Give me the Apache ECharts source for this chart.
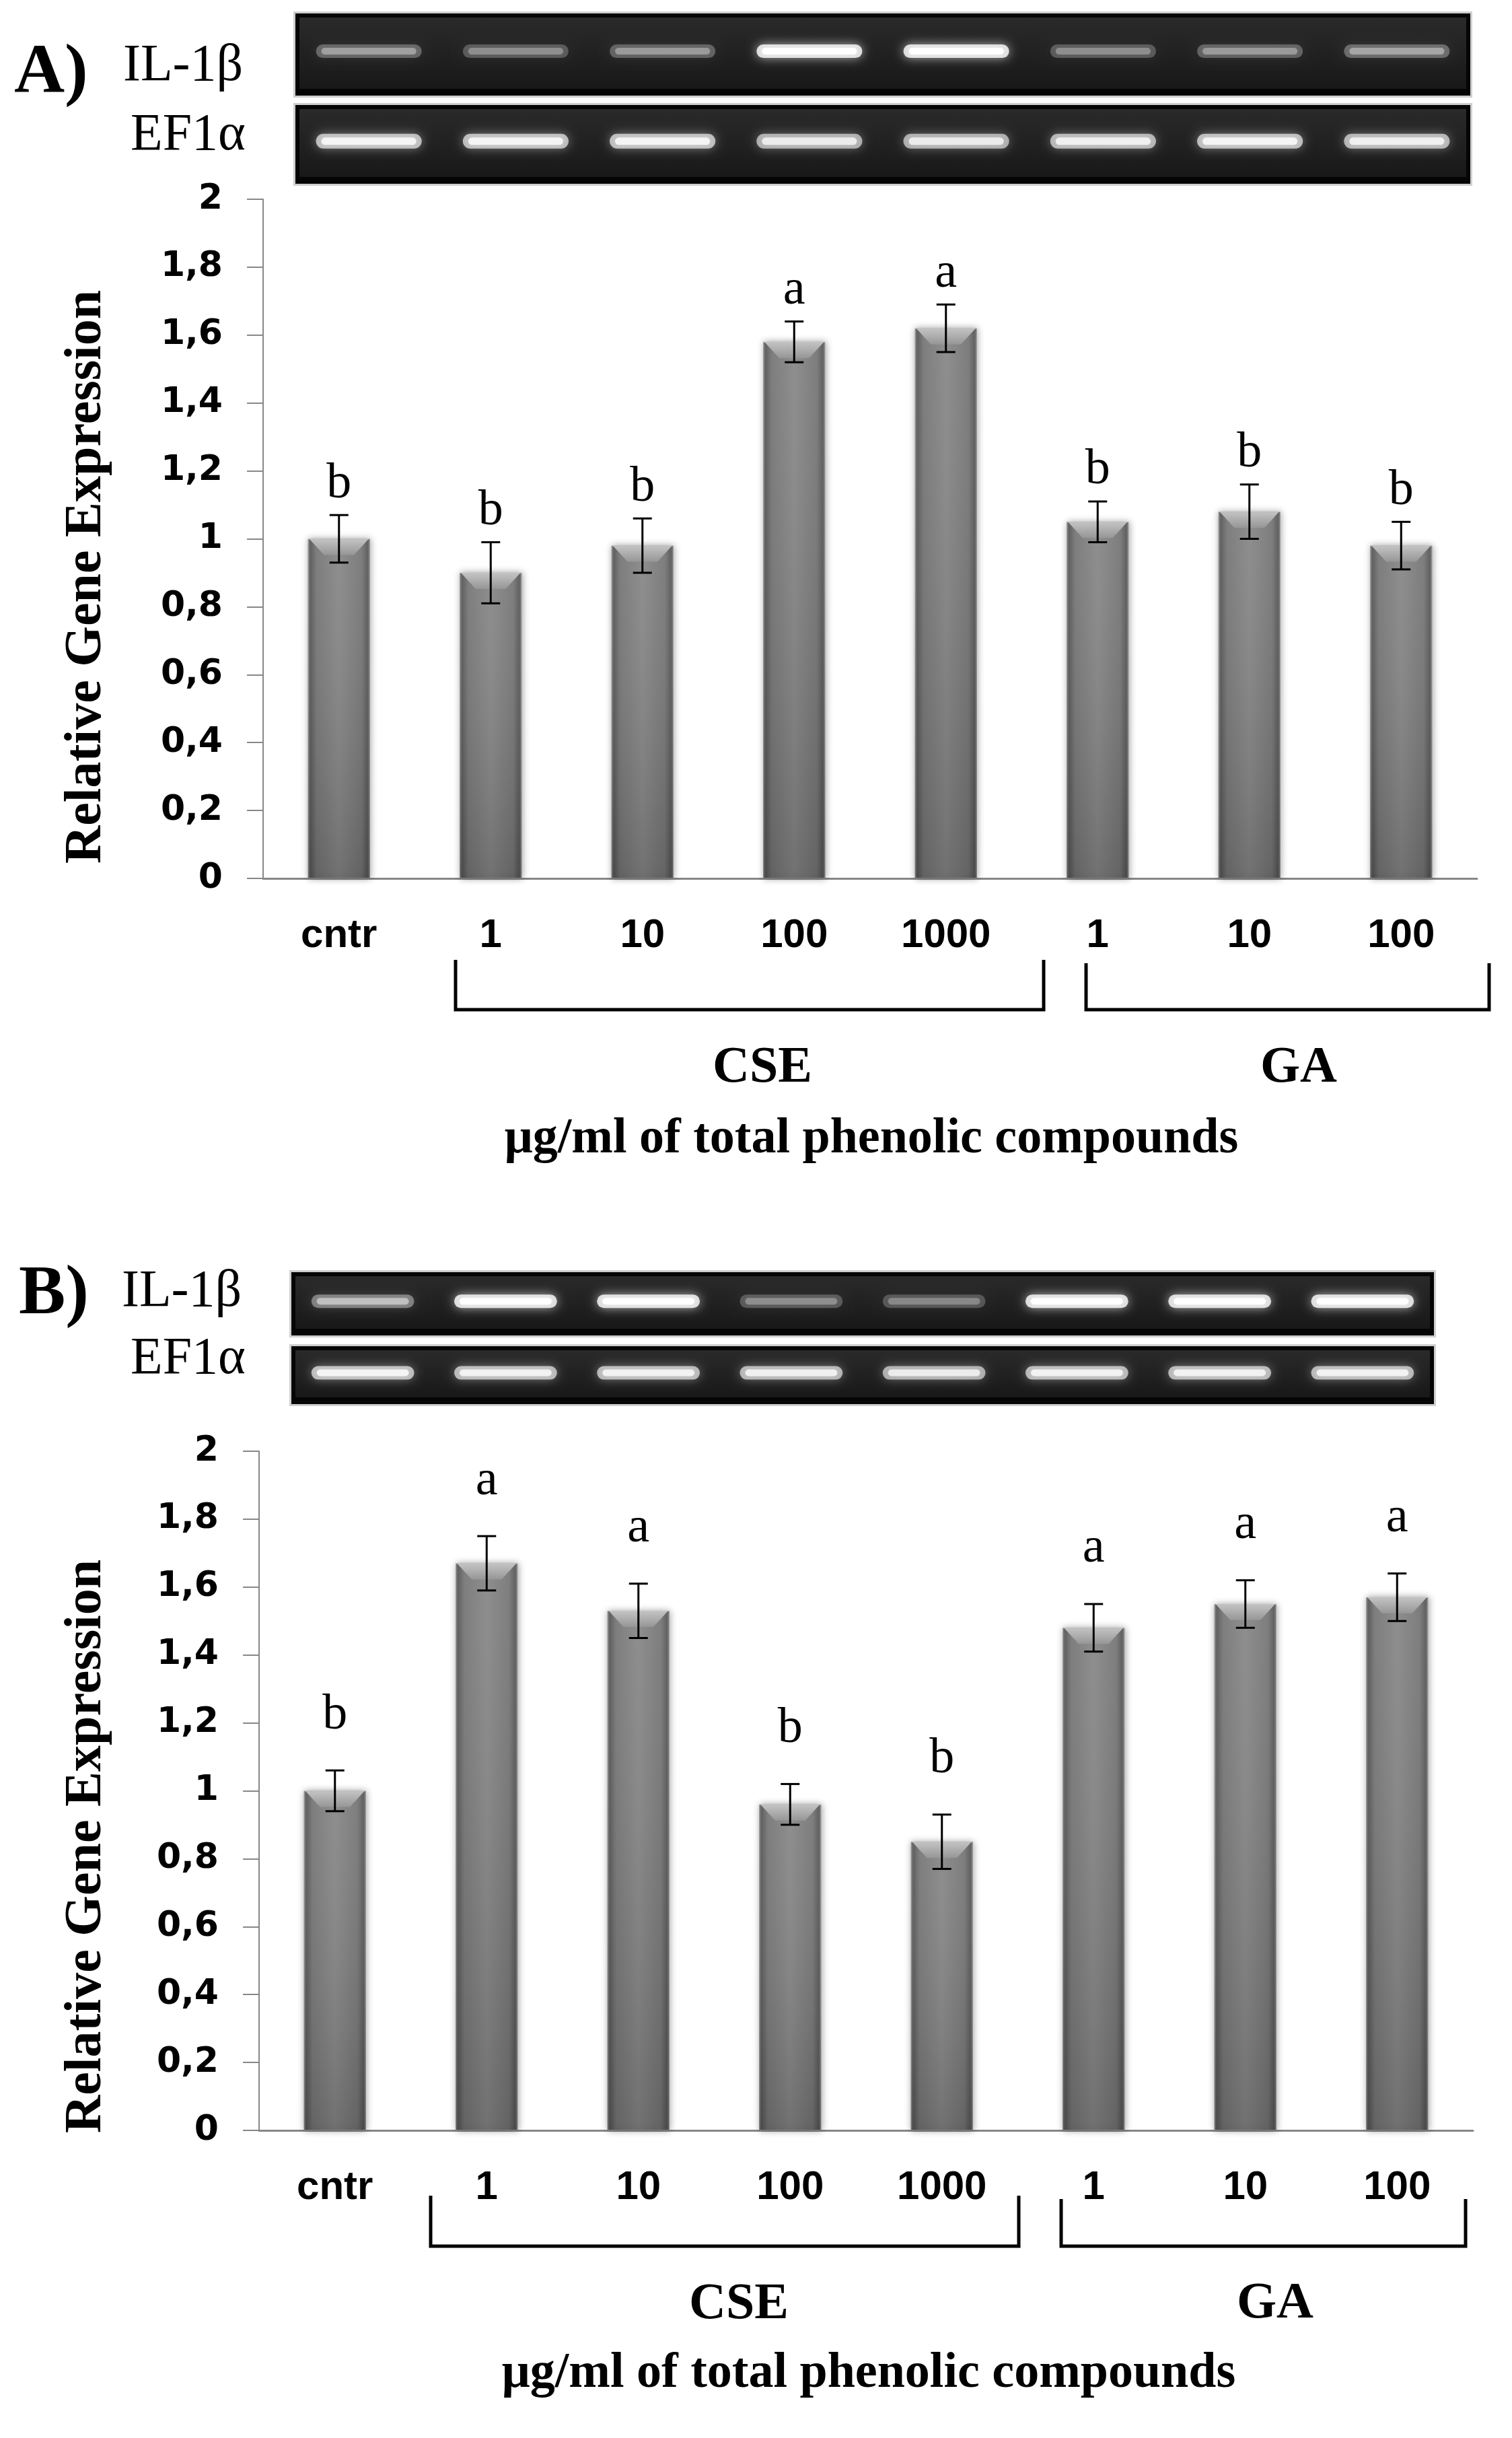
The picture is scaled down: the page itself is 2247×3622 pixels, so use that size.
<!DOCTYPE html>
<html><head><meta charset="utf-8">
<script src="https://cdn.jsdelivr.net/npm/echarts@6/dist/echarts.min.js"></script>
<style>html,body{margin:0;padding:0;background:#fff}#c{width:2247px;height:3622px}</style>
</head><body><div id="c"></div>
<script>
// ---- data ----
const categories = ['cntr', '1', '10', '100', '1000', '1', '10', '100'];
const yTickLabels = ['0', '0,2', '0,4', '0,6', '0,8', '1', '1,2', '1,4', '1,6', '1,8', '2'];
const valuesA = [1.00, 0.90, 0.98, 1.58, 1.62, 1.05, 1.08, 0.98];
const errorsA = [0.07, 0.09, 0.08, 0.06, 0.07, 0.06, 0.08, 0.07];
const lettersA = ['b', 'b', 'b', 'a', 'a', 'b', 'b', 'b'];
const valuesB = [1.00, 1.67, 1.53, 0.96, 0.85, 1.48, 1.55, 1.57];
const errorsB = [0.06, 0.08, 0.08, 0.06, 0.08, 0.07, 0.07, 0.07];
const lettersB = ['b', 'a', 'a', 'b', 'b', 'a', 'a', 'a'];
// gel band intensities (0..1) per lane
const gelIL_A = [0.36, 0.3, 0.34, 1.0, 1.0, 0.3, 0.34, 0.38];
const gelEF_A = [0.8, 0.8, 0.8, 0.72, 0.72, 0.76, 0.8, 0.76];
const gelIL_B = [0.48, 1.0, 1.0, 0.3, 0.28, 1.0, 1.0, 1.0];
const gelEF_B = [0.8, 0.78, 0.78, 0.76, 0.72, 0.78, 0.78, 0.78];

const SERIF = '"Liberation Serif", "Times New Roman", serif';
const SANS = '"DejaVu Sans", sans-serif';
const SANS_X = '"Liberation Sans", Arial, sans-serif';
const AXIS_COLOR = '#878787';

const chart = echarts.init(document.getElementById('c'), null, {renderer: 'canvas'});

function barColor() {
  return new echarts.graphic.LinearGradient(0, 0, 1, 0, [
    {offset: 0, color: '#8a8a8a'},
    {offset: 0.04, color: '#5a5a5a'},
    {offset: 0.14, color: '#767676'},
    {offset: 0.5, color: '#878787'},
    {offset: 0.86, color: '#767676'},
    {offset: 0.96, color: '#5a5a5a'},
    {offset: 1, color: '#8a8a8a'}
  ]);
}

function overlay(letters, gap) {
  return function (params, api) {
    const i = api.value(0), v = api.value(1), e = api.value(2);
    const p0 = api.coord([i, 0]), p1 = api.coord([i, v]);
    const bw = api.size([1, 0])[0] * 0.41;
    const cx = p1[0], l = cx - bw / 2, r = cx + bw / 2, t = p1[1], b = p0[1];
    const bev = 24;
    const et = api.coord([i, v + e])[1], eb = api.coord([i, v - e])[1];
    const cap = 14;
    return {
      type: 'group', silent: true,
      children: [
        {type: 'rect', shape: {x: l, y: t, width: bw, height: b - t},
          style: {fill: new echarts.graphic.LinearGradient(0, 0, 0, 1, [
            {offset: 0, color: 'rgba(255,255,255,0.06)'},
            {offset: 1, color: 'rgba(0,0,0,0.16)'}])}},
        {type: 'polygon', shape: {points: [[l + 2, t], [r - 2, t], [r - bev, t + bev], [l + bev, t + bev]]},
          style: {fill: new echarts.graphic.LinearGradient(0, 0, 0, 1, [
            {offset: 0, color: '#c4c4c4'},
            {offset: 1, color: '#969696'}])}},
        {type: 'line', shape: {x1: cx, y1: et, x2: cx, y2: eb}, style: {stroke: '#000', lineWidth: 3}},
        {type: 'line', shape: {x1: cx - cap, y1: et, x2: cx + cap, y2: et}, style: {stroke: '#000', lineWidth: 3}},
        {type: 'line', shape: {x1: cx - cap, y1: eb, x2: cx + cap, y2: eb}, style: {stroke: '#000', lineWidth: 3}},
        {type: 'text', style: {text: letters[params.dataIndex], x: cx, y: et - gap,
          align: 'center', verticalAlign: 'bottom', fontSize: 74, fontFamily: SERIF, fill: '#000'}}
      ]
    };
  };
}

function xAxisCfg(gi) {
  return {
    type: 'category', gridIndex: gi, data: categories,
    axisLine: {lineStyle: {color: AXIS_COLOR, width: 3}},
    axisTick: {length: 20, lineStyle: {color: AXIS_COLOR, width: 2}},
    axisLabel: {interval: 0, margin: 55, color: '#000', fontSize: 60, fontWeight: 'bold', fontFamily: SANS_X}
  };
}
function yAxisCfg(gi) {
  return {
    type: 'value', gridIndex: gi, min: 0, max: 2, interval: 0.2,
    splitLine: {show: false},
    axisLine: {show: true, lineStyle: {color: AXIS_COLOR, width: 2}},
    axisTick: {show: true, length: 24, lineStyle: {color: AXIS_COLOR, width: 2}},
    axisLabel: {margin: 60, color: '#000', fontSize: 52, fontWeight: 'bold', fontFamily: SANS,
      formatter: v => yTickLabels[Math.round(v * 5)]}
  };
}

function barSeries(gi, vals) {
  return {
    type: 'bar', xAxisIndex: gi, yAxisIndex: gi, data: vals, barWidth: '41%',
    itemStyle: {color: barColor(), borderColor: '#9a9a9a', borderWidth: 1,
      shadowBlur: 10, shadowColor: 'rgba(0,0,0,0.35)', shadowOffsetX: 1, shadowOffsetY: 0},
    silent: true, z: 2
  };
}
function overlaySeries(gi, vals, errs, letters, gap) {
  return {
    type: 'custom', xAxisIndex: gi, yAxisIndex: gi, z: 3,
    data: vals.map((v, i) => [i, v, errs[i]]),
    encode: {x: 0, y: 1},
    renderItem: overlay(letters, gap)
  };
}

function gel(x0, x1, y0, y1, ints, bh) {
  const w = x1 - x0, h = y1 - y0, els = [];
  els.push({type: 'rect', shape: {x: x0 - 3, y: y0 - 3, width: w + 6, height: h + 6}, style: {fill: '#cfcfcf'}});
  els.push({type: 'rect', shape: {x: x0, y: y0, width: w, height: h}, style: {fill: '#050505'}});
  els.push({type: 'rect', shape: {x: x0 + 6, y: y0 + 6, width: w - 12, height: h - 16},
    style: {fill: new echarts.graphic.LinearGradient(0, 0, 0, 1, [
      {offset: 0, color: '#2a2a2a'}, {offset: 1, color: '#181818'}])}});
  const lw = w / ints.length, by = y0 + h * 0.46;
  ints.forEach((a, i) => {
    const cx = x0 + (i + 0.5) * lw, bwid = lw * 0.72;
    els.push({type: 'rect', shape: {x: cx - bwid / 2, y: by - bh / 2, width: bwid, height: bh, r: bh / 2},
      style: {fill: 'rgba(255,255,255,' + (a * 0.8) + ')', shadowBlur: 16, shadowColor: 'rgba(255,255,255,' + (a * 0.8) + ')'}});
    els.push({type: 'rect', shape: {x: cx - bwid / 2 + 8, y: by - bh / 4, width: bwid - 16, height: bh / 2, r: bh / 4},
      style: {fill: 'rgba(255,255,255,' + a + ')'}});
  });
  return els;
}

function txt(text, x, y, size, bold, align, rot) {
  return {type: 'text', x: x, y: y, rotation: rot || 0, silent: true,
    style: {text: text, x: 0, y: 0, align: align || 'center', verticalAlign: 'middle',
      fontSize: size, fontWeight: bold ? 'bold' : 'normal', fontFamily: SERIF, fill: '#000'}};
}
function bracket(xl, xr, ytl, ytr, yb) {
  return {type: 'polyline', silent: true,
    shape: {points: [[xl, ytl], [xl, yb], [xr, yb], [xr, ytr]]},
    style: {stroke: '#000', lineWidth: 5, fill: null}};
}

const graphics = []
  .concat(gel(439, 2185, 20, 142, gelIL_A, 20))
  .concat(gel(439, 2185, 156, 273, gelEF_A, 22))
  .concat(gel(433, 2131, 1890, 1984, gelIL_B, 20))
  .concat(gel(433, 2131, 2000, 2086, gelEF_B, 20))
  .concat([
    txt('A)', 21, 110, 104, true, 'left'),
    txt('IL-1β', 183, 99, 78, false, 'left'),
    txt('EF1α', 194, 202, 78, false, 'left'),
    txt('B)', 28, 1924, 104, true, 'left'),
    txt('IL-1β', 181, 1920, 78, false, 'left'),
    txt('EF1α', 194, 2020, 78, false, 'left'),
    txt('Relative Gene Expression', 129, 857, 78, true, 'center', Math.PI / 2),
    txt('Relative Gene Expression', 129, 2743, 78, true, 'center', Math.PI / 2),
    bracket(677, 1551, 1426, 1426, 1500),
    bracket(1614, 2213, 1431, 1431, 1500),
    bracket(640, 1514, 3262, 3262, 3337),
    bracket(1577, 2178, 3267, 3267, 3337),
    txt('CSE', 1133, 1587, 76, true),
    txt('GA', 1930, 1587, 76, true),
    txt('μg/ml of total phenolic compounds', 1295, 1693, 74, true),
    txt('CSE', 1098, 3424, 76, true),
    txt('GA', 1895, 3423, 76, true),
    txt('μg/ml of total phenolic compounds', 1291, 3527, 74, true)
  ]);

chart.setOption({
  animation: false,
  backgroundColor: '#fff',
  grid: [
    {left: 391, top: 296, width: 1804, height: 1009},
    {left: 385, top: 2156, width: 1804, height: 1009}
  ],
  xAxis: [xAxisCfg(0), xAxisCfg(1)],
  yAxis: [yAxisCfg(0), yAxisCfg(1)],
  series: [
    barSeries(0, valuesA),
    overlaySeries(0, valuesA, errorsA, lettersA, 9),
    barSeries(1, valuesB),
    overlaySeries(1, valuesB, errorsB, lettersB, 45)
  ],
  graphic: graphics
});
</script>
</body></html>
